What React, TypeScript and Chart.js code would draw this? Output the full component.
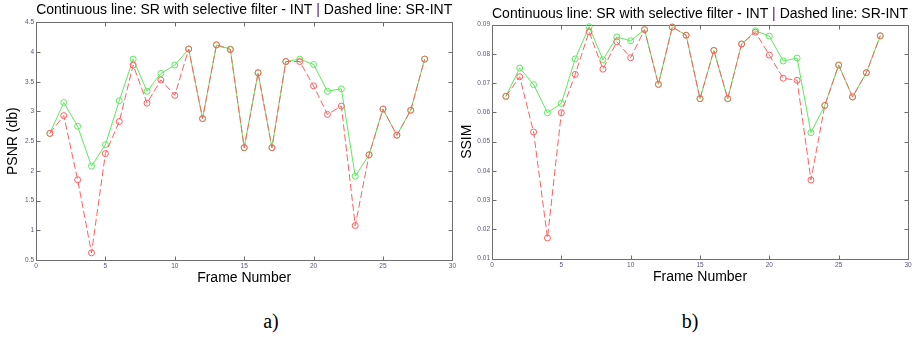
import React, { useEffect, useRef } from "react";
import { Chart, registerables } from "chart.js";

Chart.register(...registerables);

const frames = [1, 2, 3, 4, 5, 6, 7, 8, 9, 10, 11, 12, 13, 14, 15, 16, 17, 18, 19, 20, 21, 22, 23, 24, 25, 26, 27, 28];

const psnrSelective = [2.63, 3.15, 2.75, 2.08, 2.44, 3.18, 3.88, 3.34, 3.64, 3.78, 4.05, 2.88, 4.12, 4.05, 2.39, 3.65, 2.39, 3.84, 3.88, 3.79, 3.34, 3.38, 1.91, 2.27, 3.04, 2.6, 3.02, 3.88];
const psnrInt = [2.63, 2.93, 1.85, 0.62, 2.29, 2.83, 3.78, 3.14, 3.53, 3.27, 4.05, 2.88, 4.12, 4.04, 2.39, 3.65, 2.39, 3.84, 3.84, 3.43, 2.95, 3.09, 1.08, 2.27, 3.04, 2.6, 3.02, 3.88];

const ssimSelective = [0.0655, 0.0752, 0.0695, 0.0599, 0.0631, 0.0783, 0.0893, 0.078, 0.0858, 0.0845, 0.0883, 0.0696, 0.0892, 0.0864, 0.0647, 0.0812, 0.0647, 0.0834, 0.0879, 0.0861, 0.0776, 0.0786, 0.0531, 0.0624, 0.0762, 0.0653, 0.0736, 0.0862];
const ssimInt = [0.0655, 0.0722, 0.0533, 0.0171, 0.0599, 0.073, 0.0876, 0.0748, 0.0842, 0.0787, 0.0883, 0.0696, 0.0892, 0.0864, 0.0647, 0.0812, 0.0647, 0.0834, 0.0874, 0.0796, 0.0717, 0.071, 0.0369, 0.0624, 0.0762, 0.0653, 0.0736, 0.0862];

const xTicks = [0, 5, 10, 15, 20, 25, 30];
const psnrTicks = [0.5, 1, 1.5, 2, 2.5, 3, 3.5, 4, 4.5];
const ssimTicks = [0.01, 0.02, 0.03, 0.04, 0.05, 0.06, 0.07, 0.08, 0.09];

const titleText = "Continuous line: SR with selective filter - INT | Dashed line: SR-INT";
const xTitle = "Frame Number";

const SANS = "Arial, 'Liberation Sans', sans-serif";
const GREEN = "rgb(92, 234, 92)";
const RED = "rgb(255, 95, 95)";
const TICK_COLOR = "#55557a";
const BOX_COLOR = "#6e6e6e";
const PIPE_COLOR = "#4b2070";

const framePlugin = {
  id: "matlabFrame",
  beforeDatasetsDraw(chart: any) {
    const { ctx, chartArea: a, scales } = chart;
    ctx.save();
    ctx.strokeStyle = BOX_COLOR;
    ctx.lineWidth = 1;
    ctx.beginPath();
    const L = Math.round(a.left) + 0.5;
    const R = Math.round(a.right) + 0.5;
    const T = Math.round(a.top) + 0.5;
    const B = Math.round(a.bottom) + 0.5;
    ctx.rect(L, T, R - L, B - T);
    const tl = 4;
    scales.x.ticks.forEach((t: any) => {
      const px = Math.round(scales.x.getPixelForValue(t.value)) + 0.5;
      ctx.moveTo(px, T);
      ctx.lineTo(px, T + tl);
      ctx.moveTo(px, B);
      ctx.lineTo(px, B - tl);
    });
    scales.y.ticks.forEach((t: any) => {
      const py = Math.round(scales.y.getPixelForValue(t.value)) + 0.5;
      ctx.moveTo(L, py);
      ctx.lineTo(L + tl, py);
      ctx.moveTo(R, py);
      ctx.lineTo(R - tl, py);
    });
    ctx.stroke();
    ctx.restore();
  },
};

// Title drawn centred over the plot box, with the "|" separator in its own colour
const splitTitlePlugin = {
  id: "splitTitle",
  afterDraw(chart: any, _args: any, opts: any) {
    const { ctx, chartArea: a } = chart;
    const idx = titleText.indexOf("|");
    const parts = [
      { text: titleText.slice(0, idx), color: "#000" },
      { text: "|", color: PIPE_COLOR },
      { text: titleText.slice(idx + 1), color: "#000" },
    ];
    ctx.save();
    ctx.font = `normal 14px ${SANS}`;
    ctx.textBaseline = "middle";
    ctx.textAlign = "left";
    const widths = parts.map((p) => ctx.measureText(p.text).width);
    const total = widths.reduce((s, w) => s + w, 0);
    let x = (a.left + a.right) / 2 - total / 2;
    parts.forEach((p, i) => {
      ctx.fillStyle = p.color;
      ctx.fillText(p.text, x, opts.y);
      x += widths[i];
    });
    ctx.restore();
  },
};

type Geo = {
  left: number;
  width: number;
  height: number;
  plotTop: number;
  titleY: number;
  padRight: number;
  yWidth: number;
  yTitlePad: number;
  xHeight: number;
  xTickPad: number;
  xTitlePad: number;
  yTickPad: number;
};

type Props = {
  geo: Geo;
  yLabel: string;
  yMin: number;
  yMax: number;
  yTicks: number[];
  yFormat: (v: number) => string;
  selective: number[];
  plain: number[];
};

function MatlabChart({ geo, yLabel, yMin, yMax, yTicks, yFormat, selective, plain }: Props) {
  const ref = useRef<HTMLCanvasElement | null>(null);
  useEffect(() => {
    if (!ref.current) return;
    const chart = new Chart(ref.current, {
      type: "line",
      data: {
        datasets: [
          {
            label: "SR-INT",
            data: frames.map((f, i) => ({ x: f, y: plain[i] })),
            borderColor: RED,
            backgroundColor: "rgba(0,0,0,0)",
            borderWidth: 1,
            borderDash: [7, 3],
            pointRadius: 3,
            pointBorderWidth: 1,
            pointBorderColor: RED,
            pointBackgroundColor: "rgba(0,0,0,0)",
            tension: 0,
            clip: false as any,
          },
          {
            label: "SR with selective filter - INT",
            data: frames.map((f, i) => ({ x: f, y: selective[i] })),
            borderColor: GREEN,
            backgroundColor: "rgba(0,0,0,0)",
            borderWidth: 1,
            pointRadius: 3,
            pointBorderWidth: 1,
            pointBorderColor: GREEN,
            pointBackgroundColor: "rgba(0,0,0,0)",
            tension: 0,
            clip: false as any,
          },
        ],
      },
      options: {
        responsive: false,
        animation: false,
        events: [],
        layout: { padding: { left: 0, right: geo.padRight, top: geo.plotTop, bottom: 0 } },
        plugins: {
          legend: { display: false },
          tooltip: { enabled: false },
          title: { display: false },
          splitTitle: { y: geo.titleY },
        },
        scales: {
          x: {
            type: "linear",
            min: 0,
            max: 30,
            afterBuildTicks: (s: any) => {
              s.ticks = xTicks.map((v) => ({ value: v }));
            },
            afterFit: (s: any) => {
              s.height = geo.xHeight;
            },
            grid: { display: false, drawTicks: false },
            border: { display: false },
            ticks: {
              color: TICK_COLOR,
              font: { family: SANS, size: 6.5 },
              padding: geo.xTickPad,
              maxRotation: 0,
              autoSkip: false,
              callback: (v: any) => String(v),
            },
            title: {
              display: true,
              text: xTitle,
              color: "#000",
              font: { family: SANS, size: 14 },
              padding: { top: 0, bottom: geo.xTitlePad },
            },
          },
          y: {
            type: "linear",
            min: yMin,
            max: yMax,
            afterBuildTicks: (s: any) => {
              s.ticks = yTicks.map((v) => ({ value: v }));
            },
            afterFit: (s: any) => {
              s.width = geo.yWidth;
            },
            grid: { display: false, drawTicks: false },
            border: { display: false },
            ticks: {
              color: TICK_COLOR,
              font: { family: SANS, size: 6.5 },
              padding: geo.yTickPad,
              autoSkip: false,
              callback: (v: any) => yFormat(Number(v)),
            },
            title: {
              display: true,
              text: yLabel,
              color: "#000",
              font: { family: SANS, size: 14 },
              padding: { top: geo.yTitlePad, bottom: 0 },
            },
          },
        },
      },
      plugins: [framePlugin, splitTitlePlugin],
    } as any);
    return () => chart.destroy();
  }, []);
  return (
    <canvas
      ref={ref}
      width={geo.width}
      height={geo.height}
      style={{ position: "absolute", left: geo.left, top: 0, width: geo.width, height: geo.height }}
    />
  );
}

const leftGeo: Geo = {
  left: 0,
  width: 458,
  height: 290,
  plotTop: 22.3,
  titleY: 10.5,
  padRight: 4,
  yWidth: 36,
  yTitlePad: 4.9,
  xHeight: 30,
  xTickPad: 2,
  xTitlePad: 3.9,
  yTickPad: 2,
};

const rightGeo: Geo = {
  left: 458,
  width: 457,
  height: 290,
  plotTop: 24.7,
  titleY: 14.5,
  padRight: 7,
  yWidth: 34,
  yTitlePad: 0.3,
  xHeight: 31.3,
  xTickPad: 3.1,
  xTitlePad: 4.9,
  yTickPad: 2,
};

const captionStyle: React.CSSProperties = {
  position: "absolute",
  top: 321,
  transform: "translate(-50%, -50%)",
  fontFamily: "'Liberation Serif', 'Times New Roman', serif",
  fontSize: 20,
  color: "#000",
  lineHeight: 1,
};

export default function App() {
  return (
    <div style={{ position: "absolute", left: 0, top: 0, width: 915, height: 337, background: "#fff", overflow: "hidden" }}>
      <MatlabChart
        geo={leftGeo}
        yLabel="PSNR (db)"
        yMin={0.5}
        yMax={4.5}
        yTicks={psnrTicks}
        yFormat={(v) => String(v)}
        selective={psnrSelective}
        plain={psnrInt}
      />
      <MatlabChart
        geo={rightGeo}
        yLabel="SSIM"
        yMin={0.01}
        yMax={0.09}
        yTicks={ssimTicks}
        yFormat={(v) => v.toFixed(2)}
        selective={ssimSelective}
        plain={ssimInt}
      />
      <div style={{ ...captionStyle, left: 271 }}>a)</div>
      <div style={{ ...captionStyle, left: 690 }}>b)</div>
    </div>
  );
}
